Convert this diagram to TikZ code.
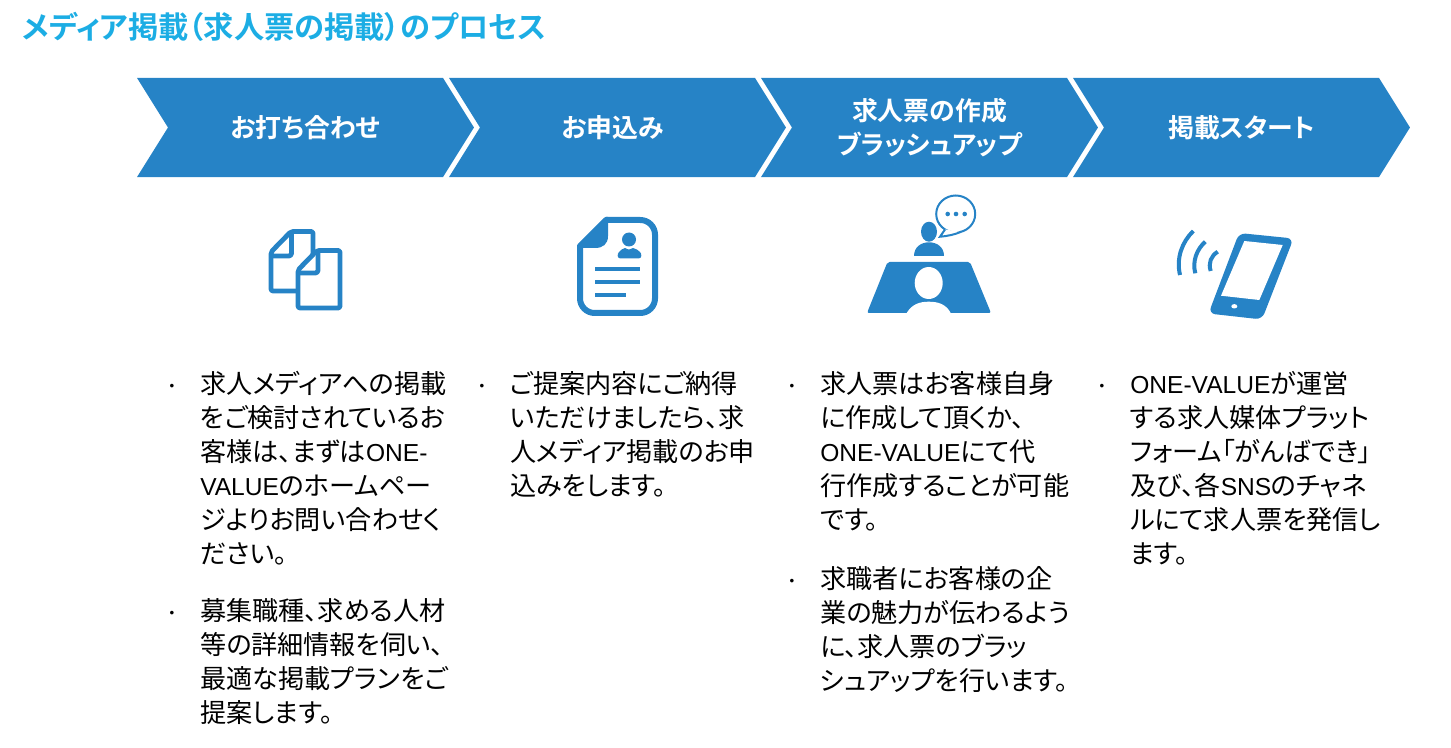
\documentclass[tikz,border=0pt]{standalone}
\usepackage{fontspec}
\setmainfont[BoldFont={Noto Sans CJK JP Bold}, RawFeature={+palt}]{Noto Sans CJK JP}
\newfontfamily\latinfont[Scale=0.94]{Liberation Sans}
\newfontfamily\bulletfont{Liberation Sans}
\newcommand{\lat}[1]{{\latinfont #1}}
\usetikzlibrary{shapes.symbols}
\definecolor{chevblue}{HTML}{2683C6}
\definecolor{titleblue}{HTML}{1CADE4}

\begin{document}
\begin{tikzpicture}[
    x=0.75pt, y=-0.75pt,
    node distance=234pt,
    chevron/.style={signal, signal to=east, signal from=west, signal pointer angle=116, fill=chevblue, text=white, inner sep=0pt, outer sep=0pt, minimum width=252.7pt, minimum height=74.3pt, align=center, font=\fontsize{19.4pt}{25pt}\selectfont\bfseries},
    bodytext/.style={anchor=north west, inner sep=0pt, align=left, text=black, font=\fontsize{19.6pt}{25.5pt}\selectfont},
    bulletmark/.style={inner sep=0pt, text=black, font=\fontsize{10pt}{10pt}\selectfont\bulletfont},
    thinline/.style={draw=chevblue, line width=3pt, line join=round},
    iconline/.style={draw=chevblue, line width=3.6pt, line join=round},
    iconfill/.style={fill=chevblue}
]
    \useasboundingbox (0,0) rectangle (1451,748);

    % Title
    \node (title) [anchor=west, inner sep=0pt, text=titleblue, font=\fontsize{22.7pt}{24pt}\selectfont\bfseries] at (22,27) {メディア掲載（求人票の掲載）のプロセス};

    % Process chevrons
    \node [chevron] (chevA) at (305.5,127.5) {お打ち合わせ};
    \node [chevron, right of=chevA] (chevB) {\hspace*{-7.5pt}お申込み};
    \node [chevron, right of=chevB] (chevC) {求人票の作成\\ブラッシュアップ};
    \node [chevron, right of=chevC] (chevD) {掲載スタート};

    % Icon: two documents
    \draw [iconline, rounded corners=1.5pt] (271,291) -- (271,252) -- (291,231.5) -- (313,231.5) -- (313,291) -- cycle;
    \draw [iconline, rounded corners=2pt] (291.5,233) -- (291.5,256) -- (271,256);
    \draw [iconline, fill=white, rounded corners=1.5pt] (298,308) -- (298,270) -- (317,250.5) -- (340,250.5) -- (340,308) -- cycle;
    \draw [iconline, rounded corners=2pt] (318,252) -- (318,273) -- (298,273);

    % Icon: profile sheet
    \draw [draw=chevblue, line width=4.5pt, line join=round] (580,248) -- (580,246) -- (606,220) [rounded corners=11pt] -- (655,220) -- (655,313) -- (580,313) -- (580,248);
    \fill [iconfill] (577,245.5) -- (605.5,217) -- (608,217) -- (608,236) .. controls (608,244) and (603,248) .. (595,248) -- (577,248) -- cycle;
    \fill [iconfill] (629,239.5) circle (7);
    \fill [iconfill] (620.5,258.5) .. controls (617,258.5) and (617,254) .. (619,252) .. controls (620.5,250) and (623,248.5) .. (625,248) .. controls (628,250) and (631,250) .. (633,248) .. controls (636,249) and (638.5,250) .. (640,252) .. controls (642,254) and (642,258.5) .. (638.5,258.5) -- cycle;
    \fill [iconfill] (595,267.5) rectangle (639.5,271.5);
    \fill [iconfill] (595,280.5) rectangle (639.5,284.5);
    \fill [iconfill] (595,293.5) rectangle (626,297.5);

    % Icon: meeting at a table
    \fill [iconfill, rounded corners=1.5pt] (887.5,262) -- (970,262) -- (991,313) -- (867,313) -- cycle;
    \fill [white] (928.7,283) ellipse (14 and 16);
    \fill [white] (906.7,313) .. controls (912,304) and (920,301.7) .. (928.7,301.7) .. controls (938,301.7) and (946,304) .. (950.7,313) -- cycle;
    \fill [iconfill] (929,231.7) ellipse (8 and 10);
    \fill [iconfill] (914,256) .. controls (914,247) and (921,242.3) .. (929,242.3) .. controls (937,242.3) and (944,247) .. (944,256) -- cycle;
    \draw [draw=chevblue, line width=1.5pt, fill=white] (955.7,214) ellipse (19.5 and 18.5);
    \draw [draw=chevblue, line width=1.5pt, fill=white] (945,229.5) -- (940,236.7) .. controls (948,236) and (955,234.5) .. (961,231.8);
    \fill [iconfill] (947.7,214) circle (2.3);
    \fill [iconfill] (956,214) circle (2.3);
    \fill [iconfill] (964.7,214) circle (2.3);

    % Icon: smartphone
    \fill [iconfill, rounded corners=5pt] (1239,233) -- (1293.5,238.5) -- (1262,319.5) -- (1208.5,313.5) -- cycle;
    \fill [white] (1244.3,241) -- (1282.7,245) -- (1259.3,300) -- (1221,295.7) -- cycle;
    \fill [white] (1234.3,306.3) ellipse (3 and 2.2);
    \draw [thinline] (1193.3,231) .. controls (1182,242) and (1176,258) .. (1180,275);
    \draw [thinline] (1205.3,241.7) .. controls (1197,249) and (1192,261) .. (1195.3,273.3);
    \draw [thinline] (1217.7,251.7) .. controls (1211,256) and (1208,263) .. (1210.7,271);

    % Column 1
    \node [bulletmark] (bulA1) at (172,387) {•};
    \node [bodytext] (bodyA1) at (200,371) {求人メディアへの掲載\\をご検討されているお\\客様は、まずは\lat{ONE-}\\\lat{VALUE}のホームペー\\ジよりお問い合わせく\\ださい。};
    \node [bulletmark] (bulA2) at (172,614) {•};
    \node [bodytext] (bodyA2) at (200,598) {募集職種、求める人材\\等の詳細情報を伺い、\\最適な掲載プランをご\\提案します。};

    % Column 2
    \node [bulletmark] (bulB1) at (482,387) {•};
    \node [bodytext] (bodyB1) at (510,371) {ご提案内容にご納得\\いただけましたら、求\\人メディア掲載のお申\\込みをします。};

    % Column 3
    \node [bulletmark] (bulC1) at (792,387) {•};
    \node [bodytext] (bodyC1) at (820,371) {求人票はお客様自身\\に作成して頂くか、\\\lat{ONE-VALUE}にて代\\行作成することが可能\\です。};
    \node [bulletmark] (bulC2) at (792,582) {•};
    \node [bodytext] (bodyC2) at (820,566) {求職者にお客様の企\\業の魅力が伝わるよう\\に、求人票のブラッ\\シュアップを行います。};

    % Column 4
    \node [bulletmark] (bulD1) at (1102,387) {•};
    \node [bodytext] (bodyD1) at (1130,371) {\lat{ONE-VALUE}が運営\\する求人媒体プラット\\フォーム「がんばでき」\\及び、各\lat{SNS}のチャネ\\ルにて求人票を発信し\\ます。};

\end{tikzpicture}
\end{document}
